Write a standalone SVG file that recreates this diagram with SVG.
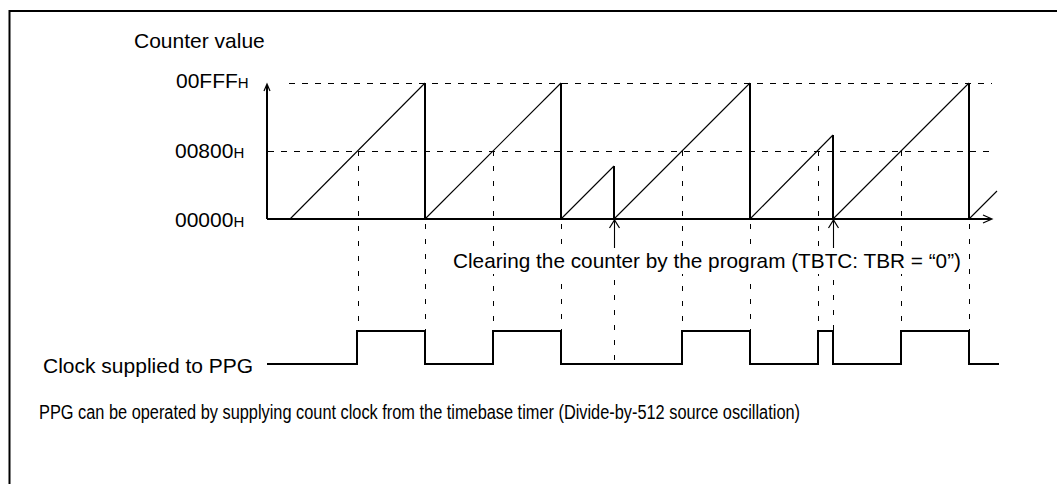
<svg xmlns="http://www.w3.org/2000/svg" width="1057" height="484" viewBox="0 0 1057 484">
<style>
text{font-family:"Liberation Sans",Arial,sans-serif;fill:#000}
.lbl{font-size:21px}
.note{font-size:20px}
.sub{font-size:15px}
.thick{stroke:#000;stroke-width:2;fill:none}
.thin{stroke:#000;stroke-width:1.1;fill:none}
.dh{stroke:#000;stroke-width:1;fill:none;stroke-dasharray:6 7}
.dv{stroke:#000;stroke-width:1;fill:none;stroke-dasharray:5 10}
.head{stroke:#000;stroke-width:1.2;fill:none}
</style>
<rect width="1057" height="484" fill="#fff"/>
<path class="thick" d="M9.5,484 V11 H1057"/>
<g id="guides">
<line class="dh" x1="289" y1="83.5" x2="992" y2="83.5"/>
<line class="dh" x1="268" y1="151.5" x2="992" y2="151.5"/>
<line class="dv" x1="358.5" y1="151" x2="358.5" y2="331"/>
<line class="dv" x1="425.5" y1="224" x2="425.5" y2="331"/>
<line class="dv" x1="493.5" y1="151" x2="493.5" y2="331"/>
<line class="dv" x1="561.5" y1="224" x2="561.5" y2="331"/>
<line class="dv" x1="614.5" y1="250" x2="614.5" y2="364"/>
<line class="dv" x1="682.5" y1="151" x2="682.5" y2="331"/>
<line class="dv" x1="750.5" y1="224" x2="750.5" y2="331"/>
<line class="dv" x1="818.5" y1="151" x2="818.5" y2="331"/>
<line class="dv" x1="833.5" y1="250" x2="833.5" y2="331"/>
<line class="dv" x1="901.5" y1="151" x2="901.5" y2="331"/>
<line class="dv" x1="969.5" y1="224" x2="969.5" y2="331"/>
</g>
<g id="axes">
<line class="thick" x1="267" y1="219" x2="267" y2="85"/>
<polyline class="head" points="264,91 267,84 270,91"/>
<line class="thick" x1="267" y1="219" x2="991" y2="219"/>
<polyline class="head" points="983,215 992,219 983,223"/>
</g>
<g id="counter">
<polyline class="thin" points="290,219 425,83"/>
<polyline class="thin" points="425,219 561,83"/>
<polyline class="thin" points="561,219 614,166"/>
<polyline class="thin" points="614,219 750,83"/>
<polyline class="thin" points="750,219 833,135"/>
<polyline class="thin" points="833,219 969,83"/>
<polyline class="thin" points="969,219 997,191"/>
<line class="thick" x1="425" y1="83" x2="425" y2="219"/>
<line class="thick" x1="561" y1="83" x2="561" y2="219"/>
<line class="thick" x1="614" y1="166" x2="614" y2="219"/>
<line class="thick" x1="750" y1="83" x2="750" y2="219"/>
<line class="thick" x1="833" y1="135" x2="833" y2="219"/>
<line class="thick" x1="969" y1="83" x2="969" y2="219"/>
</g>
<g id="connectors">
<line class="thin" x1="614.5" y1="220" x2="614.5" y2="250"/>
<polyline class="head" points="609.5,228 614.5,220 619.5,228"/>
<line class="thin" x1="833.5" y1="220" x2="833.5" y2="250"/>
<polyline class="head" points="828.5,228 833.5,220 838.5,228"/>
</g>
<g id="clock">
<polyline class="thick" points="267,364 357,364 357,331 425,331 425,364 493,364 493,331 561,331 561,364 682,364 682,331 750,331 750,364 818,364 818,331 833,331 833,364 901,364 901,331 969,331 969,364 999,364"/>
</g>
<g id="labels">
<text class="lbl" x="134" y="48">Counter value</text>
<text class="lbl" x="176" y="88">00FFF<tspan class="sub">H</tspan></text>
<text class="lbl" x="175" y="158">00800<tspan class="sub">H</tspan></text>
<text class="lbl" x="175" y="227">00000<tspan class="sub">H</tspan></text>
<rect x="450" y="248" width="514" height="26" fill="#fff"/>
<text class="lbl" x="453" y="268" textLength="508" lengthAdjust="spacingAndGlyphs">Clearing the counter by the program (TBTC: TBR = “0”)</text>
<text class="lbl" x="43" y="373">Clock supplied to PPG</text>
<text class="note" x="39" y="419" textLength="761" lengthAdjust="spacingAndGlyphs">PPG can be operated by supplying count clock from the timebase timer (Divide-by-512 source oscillation)</text>
</g>
</svg>
